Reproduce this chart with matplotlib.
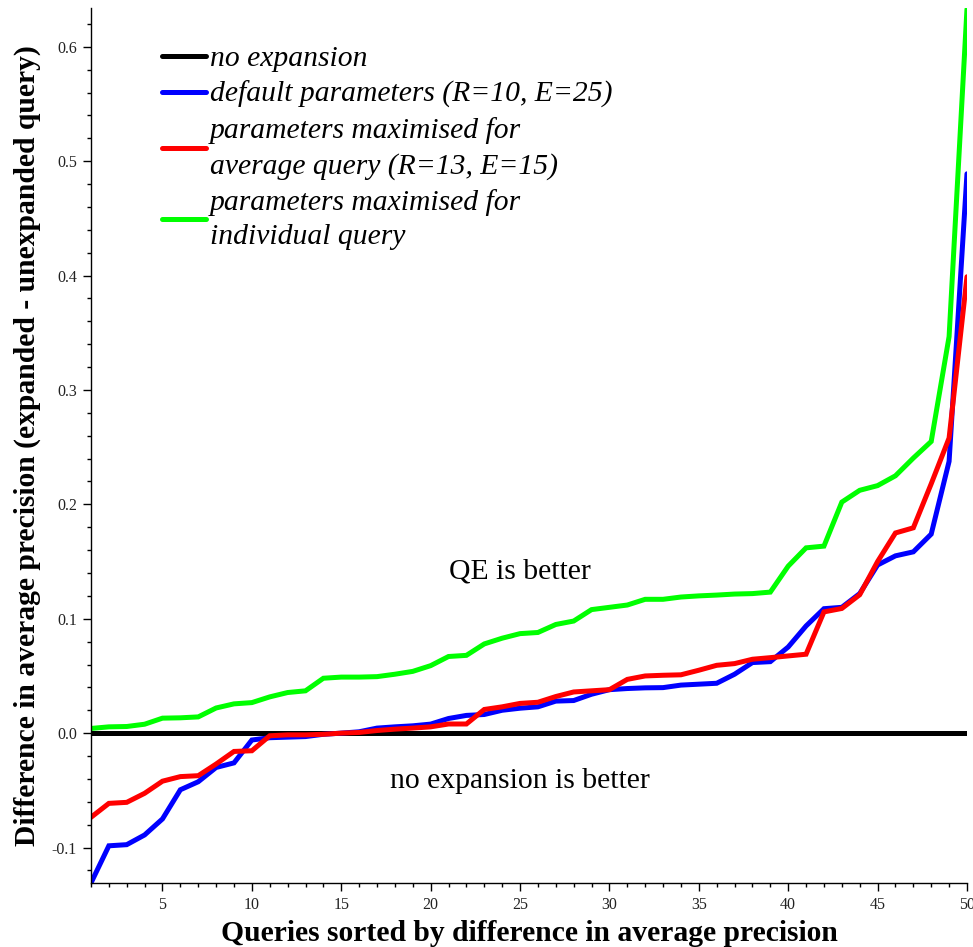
import numpy as np
import matplotlib
matplotlib.use("Agg")
import matplotlib.pyplot as plt
from matplotlib.ticker import MultipleLocator, FixedLocator

# Query rank (sorted by difference in average precision)
queries = list(range(1, 51))

no_expansion = [0.0] * 50

default_params = [
    -0.131, -0.0985, -0.0975, -0.089, -0.075, -0.0495, -0.0425, -0.030, -0.026, -0.006,
    -0.004, -0.0035, -0.003, -0.001, 0.000, 0.0012, 0.0044, 0.0055, 0.0064, 0.0079,
    0.0128, 0.0155, 0.0163, 0.020, 0.0218, 0.023, 0.028, 0.0285, 0.034, 0.038,
    0.039, 0.0396, 0.0398, 0.042, 0.0428, 0.0436, 0.0515, 0.0617, 0.0625, 0.0753,
    0.0937, 0.1088, 0.110, 0.122, 0.147, 0.155, 0.1585, 0.174, 0.2376, 0.489,
]

avg_params = [
    -0.0736, -0.0614, -0.0605, -0.0526, -0.042, -0.038, -0.0372, -0.027, -0.016, -0.0154,
    -0.0023, -0.0015, -0.0015, -0.001, 0.000, 0.0006, 0.0023, 0.0035, 0.0044, 0.0055,
    0.008, 0.008, 0.0207, 0.023, 0.026, 0.027, 0.032, 0.036, 0.037, 0.038,
    0.047, 0.050, 0.0506, 0.051, 0.055, 0.0593, 0.0608, 0.0646, 0.066, 0.0675,
    0.069, 0.106, 0.109, 0.121, 0.150, 0.175, 0.1795, 0.218, 0.258, 0.399,
]

individual_params = [
    0.0041, 0.0055, 0.0058, 0.0078, 0.0131, 0.0134, 0.0142, 0.022, 0.0256, 0.0267,
    0.0317, 0.0355, 0.037, 0.048, 0.049, 0.049, 0.0494, 0.0515, 0.054, 0.059,
    0.067, 0.068, 0.078, 0.083, 0.087, 0.088, 0.095, 0.098, 0.108, 0.110,
    0.112, 0.117, 0.117, 0.119, 0.120, 0.1207, 0.1216, 0.122, 0.1233, 0.146,
    0.162, 0.1635, 0.202, 0.2123, 0.2164, 0.2250, 0.2405, 0.255, 0.3467, 0.633,
]

labels = [
    "no expansion",
    "default parameters (R=10, E=25)",
    "parameters maximised for\naverage query (R=13, E=15)",
    "parameters maximised for\nindividual query",
]
colors = ["#000000", "#0000ff", "#ff0000", "#00ff00"]

serif = ["Liberation Serif", "DejaVu Serif"]
plt.rcParams["font.family"] = serif
FS = 21.3

fig = plt.figure(figsize=(9.73, 9.47), dpi=100)
ax = fig.add_axes([0.0935, 0.0676, 0.9003, 0.924])

series = [no_expansion, default_params, avg_params, individual_params]
for vals, col, lab in zip(series, colors, labels):
    ax.plot(queries, vals, color=col, lw=3.6, label=lab,
            solid_capstyle="round", solid_joinstyle="miter")

ax.set_xlim(1, 50)
ax.set_ylim(-0.131, 0.634)

for side in ("top", "right"):
    ax.spines[side].set_visible(False)
for side in ("left", "bottom"):
    ax.spines[side].set_linewidth(1.0)

ax.xaxis.set_major_locator(FixedLocator([5, 10, 15, 20, 25, 30, 35, 40, 45, 50]))
ax.xaxis.set_minor_locator(MultipleLocator(1))
ax.yaxis.set_major_locator(FixedLocator([-0.1, 0.0, 0.1, 0.2, 0.3, 0.4, 0.5, 0.6]))
ax.yaxis.set_minor_locator(MultipleLocator(0.02))
ax.set_yticklabels(["-0.1", "0.0", "0.1", "0.2", "0.3", "0.4", "0.5", "0.6"])

ax.tick_params(axis="both", which="major", length=6, width=1, labelsize=11.5,
               labelcolor="#222222", pad=4)
ax.tick_params(axis="both", which="minor", length=3, width=1)

ax.set_xlabel("Queries sorted by difference in average precision",
              fontsize=FS, fontweight="bold", labelpad=5)
ax.set_ylabel("Difference in average precision (expanded - unexpanded query)",
              fontsize=FS, fontweight="bold", labelpad=8)

ax.text(25, 0.141, "QE is better", ha="center", va="center", fontsize=FS)
ax.text(25, -0.042, "no expansion is better", ha="center", va="center", fontsize=FS)

leg = ax.legend(loc="upper left", bbox_to_anchor=(0.081, 0.957), frameon=False,
                prop={"family": serif, "style": "italic", "size": FS},
                handlelength=1.5, handletextpad=0.13, labelspacing=0.3,
                borderaxespad=0, borderpad=0)
for t in leg.get_texts():
    t.set_linespacing(1.42)

fig.savefig("out.png", dpi=100)
